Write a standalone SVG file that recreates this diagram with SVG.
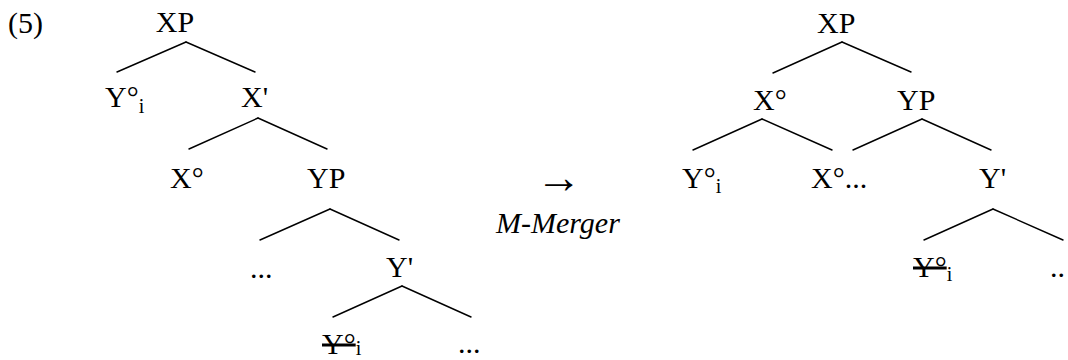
<svg xmlns="http://www.w3.org/2000/svg" width="1068" height="360" viewBox="0 0 1068 360">
<rect width="1068" height="360" fill="#fff"/>
<g id="label-5"><text x="8" y="33" font-family="Liberation Serif" font-size="30">(5)</text></g>
<g id="connectors" stroke="#000" stroke-width="1.4" stroke-linecap="round">
<line x1="186" y1="42" x2="117" y2="72"/>
<line x1="186" y1="42" x2="255" y2="72"/>
<line x1="258" y1="118" x2="189" y2="149"/>
<line x1="258" y1="118" x2="327" y2="149"/>
<line x1="330" y1="209" x2="260" y2="240"/>
<line x1="330" y1="209" x2="399" y2="240"/>
<line x1="402" y1="286" x2="333" y2="317"/>
<line x1="402" y1="286" x2="471" y2="317"/>
<line x1="842" y1="42" x2="773" y2="73"/>
<line x1="842" y1="42" x2="911" y2="72"/>
<line x1="762" y1="119" x2="693" y2="150"/>
<line x1="762" y1="119" x2="832" y2="150"/>
<line x1="922" y1="119" x2="853" y2="150"/>
<line x1="922" y1="119" x2="991" y2="150"/>
<line x1="993" y1="209" x2="924" y2="240"/>
<line x1="993" y1="209" x2="1063" y2="240"/>
</g>
<g id="L-XP"><text x="175" y="32" text-anchor="middle" font-family="Tinos" font-size="30">XP</text></g>
<g id="L-Yi"><text x="105" y="107" font-family="Tinos" font-size="30">Y°<tspan font-size="20" dy="6">i</tspan></text></g>
<g id="L-Xbar"><text x="241" y="107" font-family="Tinos" font-size="30">X'</text></g>
<g id="L-X0"><text x="170" y="188" font-family="Tinos" font-size="30">X°</text></g>
<g id="L-YP"><text x="307" y="188" font-family="Tinos" font-size="30">YP</text></g>
<g id="L-dots1"><text x="250" y="278" font-family="Tinos" font-size="30">...</text></g>
<g id="L-Ybar"><text x="386" y="277" font-family="Tinos" font-size="30">Y'</text></g>
<g id="L-Yi-trace"><text x="322" y="354" font-family="Tinos" font-size="30"><tspan text-decoration="line-through">Y°</tspan><tspan font-size="20" dy="1">i</tspan></text></g>
<g id="L-dots2"><text x="458" y="353" font-family="Tinos" font-size="30">...</text></g>
<g id="arrow"><text x="559" y="193" text-anchor="middle" font-family="Tinos" font-size="46">→</text></g>
<g id="mmerger"><text x="496" y="233" font-style="italic" font-family="Tinos" font-size="30">M-Merger</text></g>
<g id="R-XP"><text x="817" y="33" font-family="Tinos" font-size="30">XP</text></g>
<g id="R-X0"><text x="753" y="110" font-family="Tinos" font-size="30">X°</text></g>
<g id="R-YP"><text x="897" y="110" font-family="Tinos" font-size="30">YP</text></g>
<g id="R-Yi"><text x="682" y="188" font-family="Tinos" font-size="30">Y°<tspan font-size="20" dy="5">i</tspan></text></g>
<g id="R-X0dots"><text x="811" y="188" font-family="Tinos" font-size="30">X°...</text></g>
<g id="R-Ybar"><text x="979" y="188" font-family="Tinos" font-size="30">Y'</text></g>
<g id="R-Yi-trace"><text x="913" y="277" font-family="Tinos" font-size="30"><tspan text-decoration="line-through">Y°</tspan><tspan font-size="20" dy="4">i</tspan></text></g>
<g id="R-dots"><text x="1050" y="277" font-family="Tinos" font-size="30">..</text></g>
</svg>
